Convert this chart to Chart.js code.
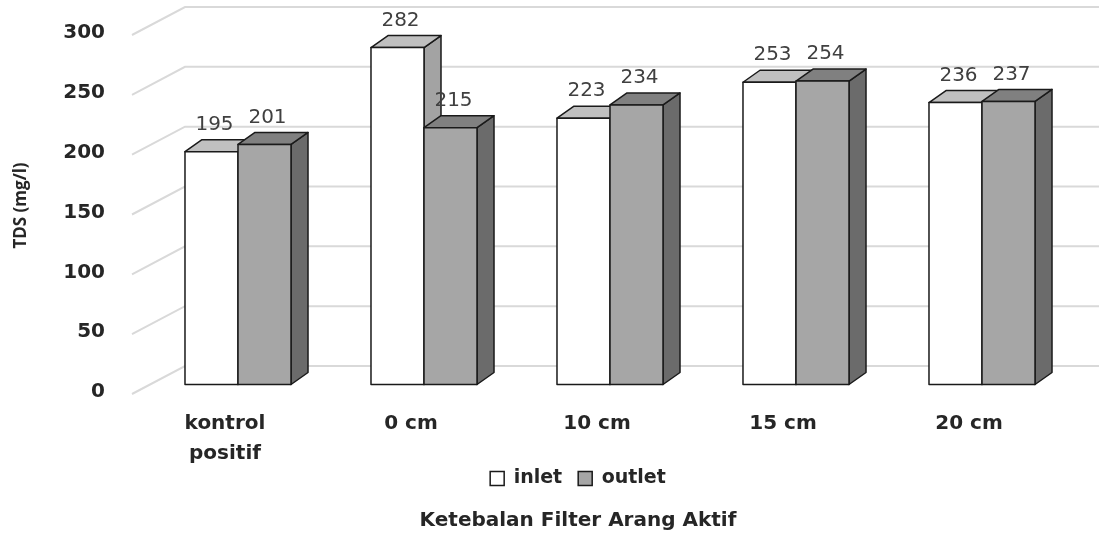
<!DOCTYPE html>
<html>
<head>
<meta charset="utf-8">
<script src="https://cdn.jsdelivr.net/npm/chart.js@4.4.1/dist/chart.umd.min.js"></script>
<style>
  html, body { margin: 0; padding: 0; background: #fff; }
  #wrap { width: 1099px; height: 533px; }
</style>
</head>
<body>
<div id="wrap"><canvas id="tdsChart"></canvas></div>
<script>
// data
const categories = [['kontrol', 'positif'], '0 cm', '10 cm', '15 cm', '20 cm'];
const inletValues = [195, 282, 223, 253, 236];
const outletValues = [201, 215, 234, 254, 237];
const yTicks = [0, 50, 100, 150, 200, 250, 300];

// fake 3D depth (Excel style)
const DEPTH_X = 17;
const DEPTH_Y = -12;

const faceColors = [
    { front: '#ffffff', top: '#c0c0c0', side: '#a3a3a3' }, // inlet
    { front: '#a6a6a6', top: '#808080', side: '#6b6b6b' }  // outlet
];

// back wall gridlines + the diagonal floor lines
const wallGrid = {
    id: 'wallGrid',
    beforeDatasetsDraw(chart) {
        const { ctx, chartArea, scales } = chart;
        ctx.save();
        ctx.strokeStyle = '#d9d9d9';
        ctx.lineWidth = 2;
        yTicks.forEach(v => {
            const y = scales.y.getPixelForValue(v);
            ctx.beginPath();
            ctx.moveTo(chartArea.left - 13, y + 9);
            ctx.lineTo(chartArea.left + 40, y - 19);
            ctx.lineTo(chart.width, y - 19);
            ctx.stroke();
        });
        ctx.restore();
    }
};

// top + side faces, redraw fronts in the right order, value labels
const bars3d = {
    id: 'bars3d',
    afterDatasetsDraw(chart) {
        const { ctx } = chart;
        const metas = [chart.getDatasetMeta(0), chart.getDatasetMeta(1)];
        ctx.save();
        ctx.lineWidth = 1.5;
        ctx.strokeStyle = '#1a1a1a';
        ctx.lineJoin = 'round';
        for (let i = 0; i < categories.length; i++) {
            metas.forEach((meta, d) => {
                const bar = meta.data[i];
                const x0 = bar.x - bar.width / 2;
                const x1 = bar.x + bar.width / 2;
                const yt = bar.y;
                const yb = bar.base;
                const c = faceColors[d];

                // side
                ctx.fillStyle = c.side;
                ctx.beginPath();
                ctx.moveTo(x1, yt);
                ctx.lineTo(x1 + DEPTH_X, yt + DEPTH_Y);
                ctx.lineTo(x1 + DEPTH_X, yb + DEPTH_Y);
                ctx.lineTo(x1, yb);
                ctx.closePath();
                ctx.fill();
                ctx.stroke();

                // top
                ctx.fillStyle = c.top;
                ctx.beginPath();
                ctx.moveTo(x0, yt);
                ctx.lineTo(x0 + DEPTH_X, yt + DEPTH_Y);
                ctx.lineTo(x1 + DEPTH_X, yt + DEPTH_Y);
                ctx.lineTo(x1, yt);
                ctx.closePath();
                ctx.fill();
                ctx.stroke();

                // front
                ctx.fillStyle = c.front;
                ctx.fillRect(x0, yt, x1 - x0, yb - yt);
                ctx.strokeRect(x0, yt, x1 - x0, yb - yt);
            });
        }

        // value labels
        ctx.fillStyle = '#404040';
        ctx.font = '20px "DejaVu Sans"';
        ctx.textAlign = 'center';
        ctx.textBaseline = 'middle';
        metas.forEach((meta, d) => {
            const values = d === 0 ? inletValues : outletValues;
            meta.data.forEach((bar, i) => {
                ctx.fillText(values[i], bar.x + 3, bar.y - 27);
            });
        });
        ctx.restore();
    }
};

new Chart(document.getElementById('tdsChart'), {
    type: 'bar',
    data: {
        labels: categories,
        datasets: [{
            label: 'inlet',
            data: inletValues,
            backgroundColor: '#ffffff',
            borderColor: '#1a1a1a',
            borderWidth: 1.5
        }, {
            label: 'outlet',
            data: outletValues,
            backgroundColor: '#a6a6a6',
            borderColor: '#1a1a1a',
            borderWidth: 1.5
        }]
    },
    options: {
        responsive: true,
        maintainAspectRatio: false,
        animation: false,
        events: [],
        datasets: {
            bar: {
                barPercentage: 1.0,
                categoryPercentage: 0.57
            }
        },
        layout: {
            // big left padding pushes legend + bottom title to the right like the original
            padding: { top: 26, right: 24, left: 81, bottom: 0 }
        },
        plugins: {
            legend: {
                position: 'bottom',
                labels: {
                    color: '#262626',
                    font: { family: 'DejaVu Sans', size: 19, weight: 'bold' },
                    boxWidth: 14,
                    boxHeight: 14,
                    padding: 16
                }
            },
            title: {
                display: true,
                position: 'bottom',
                text: 'Ketebalan Filter Arang Aktif',
                color: '#262626',
                font: { family: 'DejaVu Sans', size: 20, weight: 'bold' },
                padding: { top: 11, bottom: 0 }
            },
            tooltip: { enabled: false }
        },
        scales: {
            x: {
                grid: { display: false, drawTicks: false },
                border: { display: false },
                ticks: {
                    color: '#262626',
                    font: { family: 'DejaVu Sans', size: 20, weight: 'bold', lineHeight: 1.5 },
                    padding: 24,
                    labelOffset: -13,
                    maxRotation: 0,
                    autoSkip: false
                },
                afterFit(scale) {
                    scale.height = 68;
                    // let the second line of "kontrol positif" run into the legend band
                    scale._computeLabelArea = () => undefined;
                }
            },
            y: {
                min: 0,
                max: 300,
                // invisible tick marks give the gap between labels and plot
                grid: {
                    display: true,
                    drawOnChartArea: false,
                    drawTicks: true,
                    tickLength: 36,
                    tickColor: 'rgba(0,0,0,0)'
                },
                border: { display: false },
                ticks: {
                    stepSize: 50,
                    color: '#262626',
                    font: { family: 'DejaVu Sans', size: 20, weight: 'bold' },
                    padding: 4,
                    labelOffset: 7
                },
                title: {
                    display: true,
                    text: 'TDS (mg/l)',
                    color: '#262626',
                    font: { family: 'Open Sans', size: 17, weight: 'bold' },
                    // pulled back out to the canvas edge
                    padding: { top: -70, bottom: 0 }
                },
                afterFit(scale) {
                    scale.width = 64;
                    scale._computeLabelArea = () => undefined;
                }
            }
        }
    },
    plugins: [wallGrid, bars3d]
});
</script>
</body>
</html>
